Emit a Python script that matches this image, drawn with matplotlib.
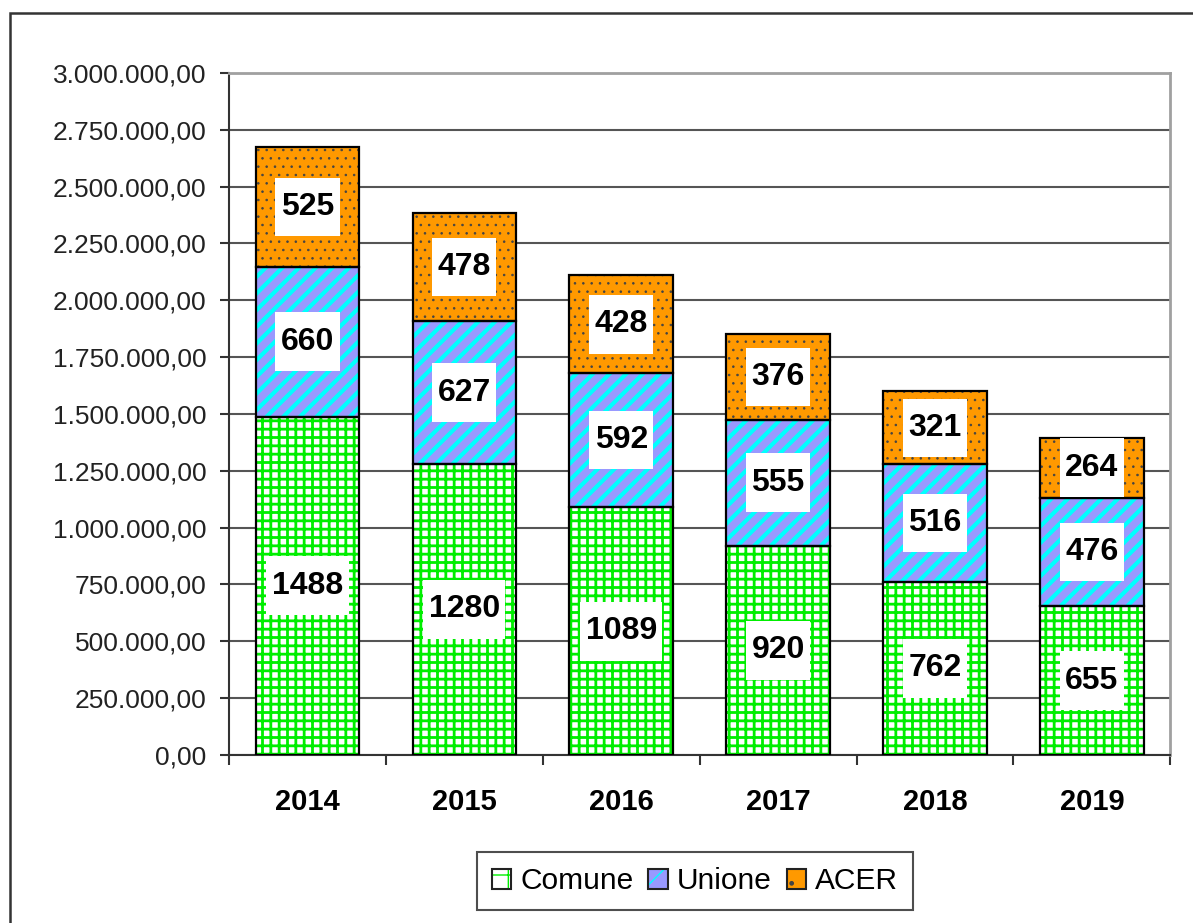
import numpy as np
import matplotlib
matplotlib.use("Agg")
import matplotlib.pyplot as plt
from matplotlib.patches import Patch, Rectangle
from matplotlib.path import Path
from matplotlib.ticker import FuncFormatter
from matplotlib.legend_handler import HandlerTuple


# valori in migliaia (etichette sulle barre)
years   = ["2014", "2015", "2016", "2017", "2018", "2019"]
comune  = [1488, 1280, 1089, 920, 762, 655]
unione  = [660, 627, 592, 555, 516, 476]
acer    = [525, 478, 428, 376, 321, 264]
seriesNames = ["Comune", "Unione", "ACER"]
yTicks  = [0, 250000, 500000, 750000, 1000000, 1250000, 1500000,
           1750000, 2000000, 2250000, 2500000, 2750000, 3000000]


# stile di ogni serie: colore di fondo, colore tratteggio, tratteggio, spessore
styles = {
    "Comune": ("white",   "#00ee00", "++", 2.0),
    "Unione": ("#9999ff", "#00ffff", "//", 3.0),
    "ACER":   ("#ff9900", "#444444", "..", 0.6),
}


def italianFormat(v, pos):
    """
    Format tick as 3.000.000,00
    """
    s = f"{v:,.2f}"
    return s.replace(",", "X").replace(".", ",").replace("X", ".")


def labelBox(x0, y0, width, height, mutation_size):
    """
    Rectangle box with different horizontal and vertical padding
    """
    px = 0.17 * mutation_size
    py = 0.45 * mutation_size
    x0, y0 = x0 - px, y0 - py
    x1, y1 = x0 + width + 2 * px, y0 + height + 2 * py
    return Path([(x0, y0), (x1, y0), (x1, y1), (x0, y1), (x0, y0)], closed=True)


def hatchedBar(ax, x, h, bottom, name, width):
    """
    Draws one hatched series plus a black outline on top
    """
    face, hcol, hatch, hlw = styles[name]
    with plt.rc_context({"hatch.linewidth": hlw}):
        bars = ax.bar(x, h, width, bottom=bottom, color=face,
                      edgecolor=hcol, hatch=hatch, linewidth=0, zorder=2)
    for b in bars:
        if hasattr(b, "set_hatch_linewidth"):
            b.set_hatch_linewidth(hlw)
    ax.bar(x, h, width, bottom=bottom, fill=False,
           edgecolor="black", linewidth=1.6, zorder=3)
    return bars


def legendHandle(name):
    face, hcol, hatch, hlw = styles[name]
    with plt.rc_context({"hatch.linewidth": hlw}):
        p = Patch(facecolor=face, edgecolor=hcol, hatch=hatch[0], linewidth=0)
    o = Patch(facecolor="none", edgecolor="#222222", linewidth=1.5)
    return (p, o)


def main():

    plt.rcParams["font.family"] = ["Liberation Sans", "DejaVu Sans"]

    fig = plt.figure(figsize=(11.93, 9.23), dpi=100)
    ax = fig.add_axes([0.192, 0.182, 0.789, 0.739])

    x = np.arange(len(years))
    width = 0.66

    c = np.array(comune) * 1000.0
    u = np.array(unione) * 1000.0
    a = np.array(acer) * 1000.0

    hatchedBar(ax, x, c, 0, "Comune", width)
    hatchedBar(ax, x, u, c, "Unione", width)
    hatchedBar(ax, x, a, c + u, "ACER", width)

    # etichette nei riquadri bianchi
    for vals, base in [(comune, 0 * c), (unione, c), (acer, c + u)]:
        for i, v in enumerate(vals):
            ax.text(x[i], base[i] + v * 1000.0 / 2, str(v), ha="center", va="center",
                    fontsize=23, fontweight="bold", color="black", zorder=5,
                    bbox=dict(boxstyle=labelBox, fc="white", ec="none"))

    ax.set_xlim(-0.5, len(years) - 0.5)
    ax.set_ylim(0, 3000000)
    ax.set_yticks(yTicks)
    ax.yaxis.set_major_formatter(FuncFormatter(italianFormat))
    ax.tick_params(axis="y", direction="out", length=6.5, width=1.5,
                   color="#333333", labelsize=19, labelcolor="#222222", pad=10)

    ax.set_xticks(np.arange(-0.5, len(years), 1))
    ax.set_xticklabels([])
    ax.set_xticks(x, minor=True)
    ax.set_xticklabels(years, minor=True, fontsize=21, fontweight="bold")
    ax.tick_params(axis="x", which="major", direction="out", length=7,
                   width=1.5, color="#333333")
    ax.tick_params(axis="x", which="minor", length=0, pad=24)

    ax.set_axisbelow(True)
    ax.grid(axis="y", color="#555555", linewidth=1.5, zorder=0)

    for side in ["left", "bottom"]:
        ax.spines[side].set_color("#333333")
        ax.spines[side].set_linewidth(1.5)
    for side in ["top", "right"]:
        ax.spines[side].set_color("#a0a0a0")
        ax.spines[side].set_linewidth(2.0)

    handles = [legendHandle(n) for n in seriesNames]
    leg = ax.legend(handles, seriesNames, loc="center", bbox_to_anchor=(0.495, -0.185),
                    ncol=3, fontsize=21.5, frameon=True, fancybox=False,
                    handlelength=0.65, handleheight=0.65, handletextpad=0.3,
                    columnspacing=0.5, borderpad=0.5,
                    handler_map={tuple: HandlerTuple(ndivide=1)})
    leg.get_frame().set_edgecolor("#222222")
    leg.get_frame().set_linewidth(1.5)

    # cornice esterna della figura
    fig.add_artist(Rectangle((10 / 1193, -0.1), 1.2, 1.1 - 13 / 923,
                             transform=fig.transFigure, fill=False,
                             edgecolor="#333333", linewidth=1.8))

    fig.savefig("out.png", dpi=100)

    return


main()
